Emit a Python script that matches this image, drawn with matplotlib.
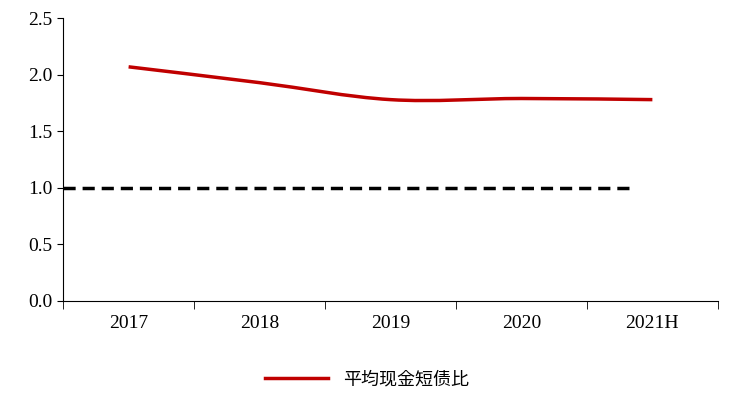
import numpy as np
import matplotlib
matplotlib.use("Agg")
import matplotlib.pyplot as plt
from matplotlib.path import Path
from matplotlib.patches import PathPatch
from matplotlib.lines import Line2D
from matplotlib import font_manager

years = ["2017", "2018", "2019", "2020", "2021H"]
cash_ratio = [2.07, 1.93, 1.78, 1.79, 1.78]
baseline = 1.0

cjk = [f.name for f in font_manager.fontManager.ttflist if "CJK" in f.name]
plt.rcParams["font.family"] = ["Liberation Serif"] + sorted(set(cjk)) + ["DejaVu Sans"]

fig = plt.figure(figsize=(7.34, 4.04), dpi=100)
ax = fig.add_axes([0.086, 0.255, 0.892, 0.70])

x = np.arange(len(years), dtype=float)
y = np.array(cash_ratio)

# smooth line through the points (Catmull-Rom as bezier segments)
verts = [(x[0], y[0])]
codes = [Path.MOVETO]
for i in range(len(x) - 1):
    p0 = np.array([x[max(i - 1, 0)], y[max(i - 1, 0)]])
    p1 = np.array([x[i], y[i]])
    p2 = np.array([x[i + 1], y[i + 1]])
    p3 = np.array([x[min(i + 2, len(x) - 1)], y[min(i + 2, len(x) - 1)]])
    c1 = p1 + (p2 - p0) / 6
    c2 = p2 - (p3 - p1) / 6
    verts += [tuple(c1), tuple(c2), tuple(p2)]
    codes += [Path.CURVE4] * 3
ax.add_patch(PathPatch(Path(verts, codes), fill=False, color="#c00000", lw=2.5))

ax.plot([-0.5, 3.87], [baseline, baseline], color="black", lw=2.5, ls=(0, (3.5, 2)))

ax.set_xlim(-0.5, 4.5)
ax.set_ylim(0, 2.5)
ax.set_yticks(np.arange(0, 2.51, 0.5))
ax.set_yticklabels([f"{v:.1f}" for v in np.arange(0, 2.51, 0.5)], fontsize=14)
ax.set_xticks(x)
ax.set_xticklabels(years, fontsize=14)
ax.tick_params(axis="x", length=0, pad=10)
ax.tick_params(axis="y", direction="out", length=4)
ax.set_xticks(np.arange(-0.5, 4.6, 1), minor=True)
ax.tick_params(axis="x", which="minor", direction="out", length=6)
for s in ["top", "right"]:
    ax.spines[s].set_visible(False)

h = Line2D([], [], color="#c00000", lw=2.5)
fam = sorted(set(cjk))[0] if cjk else "DejaVu Sans"
fig.legend([h], ["平均现金短债比"], loc="center", bbox_to_anchor=(0.5, 0.06),
           frameon=False, prop=font_manager.FontProperties(family=fam, size=13),
           handlelength=3.5)

fig.savefig("out.png", dpi=100)
